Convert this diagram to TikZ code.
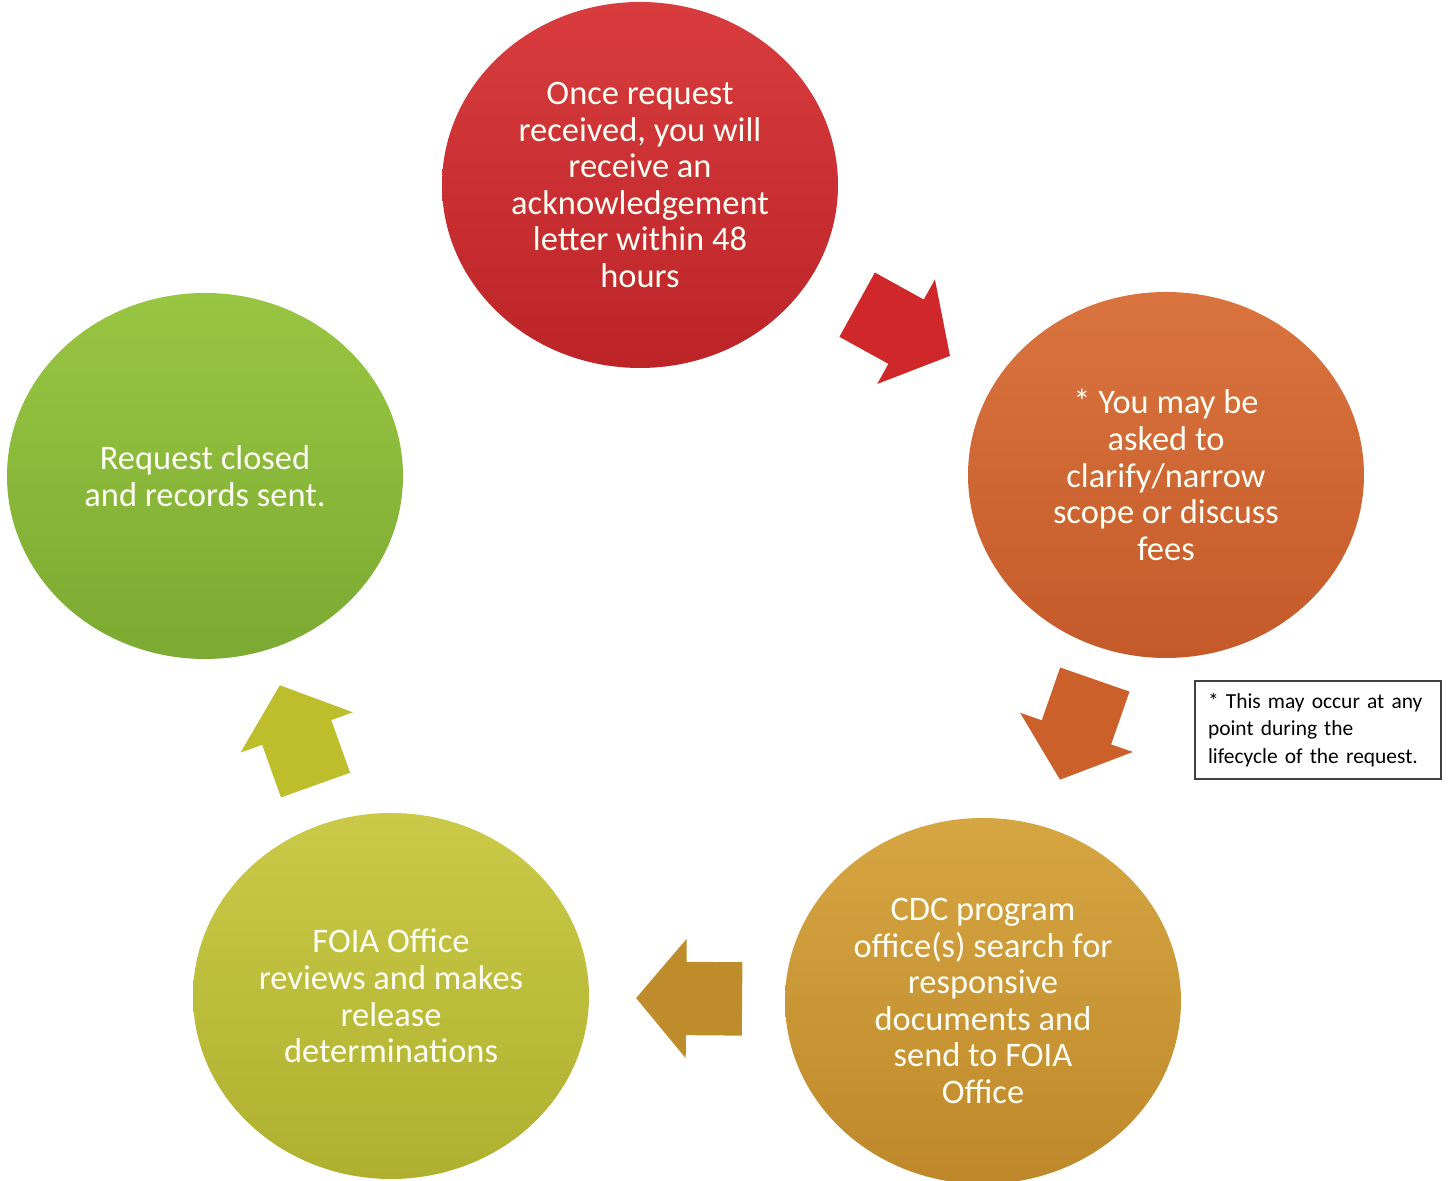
\documentclass[tikz,border=0pt]{standalone}
\usepackage{fontspec}
\setmainfont{Carlito}
\usetikzlibrary{shapes.geometric,shapes.arrows}

\begin{document}
\begin{tikzpicture}[
    stage/.style={ellipse, minimum width=3.96cm, minimum height=3.66cm, inner sep=0pt,
      align=center, text=white!96!yellow, font=\fontsize{9.8}{10.4}\selectfont},
    blockarrow/.style={single arrow, minimum height=1.06cm, inner xsep=0pt, inner ysep=0.36cm,
      single arrow head extend=0.23cm, single arrow tip angle=100,
      sloped, allow upside down},
    notebox/.style={draw=black!75, line width=0.6pt, fill=white, align=left,
      text width=2.2cm, inner xsep=0.13cm, minimum height=0.96cm,
      font=\fontsize{6.1}{7.9}\selectfont}
  ]
  % Define colors
  \definecolor{redtop}{RGB}{216,60,62}
  \definecolor{redbot}{RGB}{188,36,40}
  \definecolor{redarr}{RGB}{208,40,42}
  \definecolor{orgtop}{RGB}{218,116,62}
  \definecolor{orgbot}{RGB}{196,90,42}
  \definecolor{orgarr}{RGB}{204,96,42}
  \definecolor{goldtop}{RGB}{214,166,66}
  \definecolor{goldbot}{RGB}{190,136,42}
  \definecolor{goldarr}{RGB}{190,140,42}
  \definecolor{yeltop}{RGB}{202,202,72}
  \definecolor{yelbot}{RGB}{176,176,48}
  \definecolor{yelarr}{RGB}{190,190,44}
  \definecolor{grntop}{RGB}{152,198,66}
  \definecolor{grnbot}{RGB}{124,170,50}

  \useasboundingbox (0,0) rectangle (14.48,11.81);

  % Draw the five stages
  \node[stage, top color=redtop, bottom color=redbot] (received) at (6.40,9.96)
    {Once request\\received, you will\\receive an\\acknowledgement\\letter within 48\\hours};
  \node[stage, top color=orgtop, bottom color=orgbot] (clarify) at (11.66,7.06)
    {* You may be\\asked to\\clarify/narrow\\scope or discuss\\fees};
  \node[stage, top color=goldtop, bottom color=goldbot] (search) at (9.83,1.80)
    {CDC program\\office(s) search for\\responsive\\documents and\\send to FOIA\\Office};
  \node[stage, top color=yeltop, bottom color=yelbot] (review) at (3.91,1.85)
    {FOIA Office\\reviews and makes\\release\\determinations};
  \node[stage, top color=grntop, bottom color=grnbot] (closed) at (2.05,7.05)
    {Request closed\\and records sent.};

  % Add block arrows between stages
  \path (received) -- node[blockarrow, fill=redarr, pos=0.43] (arr1) {} (clarify);
  \path (clarify) -- node[blockarrow, fill=orgarr, pos=0.37] (arr2) {} (search);
  \path (search) -- node[blockarrow, fill=goldarr, pos=0.41] (arr3) {} (review);
  \path (review) -- node[blockarrow, fill=yelarr, pos=0.42] (arr4) {} (closed);

  % Add footnote
  \node[notebox] (note) at (13.18,4.51)
    {* This may occur at any\\point during the\\lifecycle of the request.};
\end{tikzpicture}
\end{document}
